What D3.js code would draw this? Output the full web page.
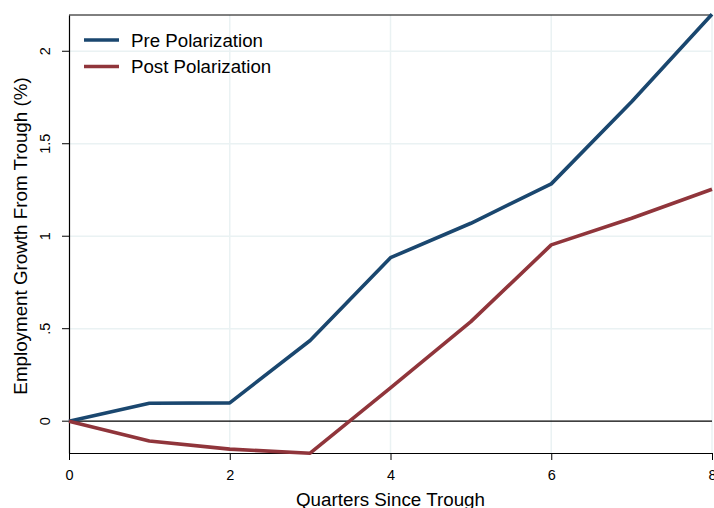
<!DOCTYPE html>
<html lang="en">
<head>
	<meta charset="UTF-8">
	<script src="https://d3js.org/d3.v7.min.js"></script>
	<style>
	body { margin: 0; background: #fff; }
	svg { display: block; font-family: "Liberation Sans", Arial, sans-serif; }
	</style>
</head>
<body>
	<div id="chart"></div>
	<script>
		// Quarters since trough
		const quarters = [0, 1, 2, 3, 4, 5, 6, 7, 8];
		// Employment growth from trough (%)
		const prePolarization = [0, 0.097, 0.099, 0.436, 0.884, 1.07, 1.283, 1.727, 2.2];
		const postPolarization = [0, -0.107, -0.151, -0.173, 0.18, 0.538, 0.953, 1.097, 1.254];
		const xTicks = [0, 2, 4, 6, 8];
		const yTicks = [0, 0.5, 1, 1.5, 2];
		const yTickLabels = ["0", ".5", "1", "1.5", "2"];

		const width = 714, height = 508;
		const margin = { top: 15, right: 2, bottom: 55, left: 69 };

		const svg = d3.select("#chart")
			.append("svg")
			.attr("width", width)
			.attr("height", height);

		const x = d3.scaleLinear([0, 8], [margin.left, width - margin.right]);
		const y = d3.scaleLinear([-0.172, 2.196], [height - margin.bottom, margin.top]);

		// Grid lines
		svg.append("g")
			.selectAll("line.hgrid")
			.data(yTicks.filter(d => d !== 0))
			.join("line")
			.attr("x1", margin.left).attr("x2", width - margin.right)
			.attr("y1", d => y(d)).attr("y2", d => y(d))
			.attr("stroke", "#eaf2f3").attr("stroke-width", 1.5);
		svg.append("g")
			.selectAll("line.vgrid")
			.data(xTicks.filter(d => d !== 0))
			.join("line")
			.attr("x1", d => x(d)).attr("x2", d => x(d))
			.attr("y1", margin.top).attr("y2", height - margin.bottom)
			.attr("stroke", "#eaf2f3").attr("stroke-width", 1.5);

		// Zero line
		svg.append("line")
			.attr("x1", margin.left).attr("x2", width - margin.right)
			.attr("y1", y(0)).attr("y2", y(0))
			.attr("stroke", "#000").attr("stroke-width", 1.2);

		// Top frame
		svg.append("line")
			.attr("x1", margin.left).attr("x2", width - margin.right)
			.attr("y1", margin.top).attr("y2", margin.top)
			.attr("stroke", "#000").attr("stroke-width", 1);

		// Axes
		const xAxis = svg.append("g")
			.attr("transform", "translate(0," + (height - margin.bottom) + ")")
			.call(d3.axisBottom(x).tickValues(xTicks).tickSize(7).tickSizeOuter(0));
		xAxis.select(".domain").attr("stroke-width", 1.2);
		xAxis.selectAll("text")
			.attr("font-size", 14.5)
			.attr("fill", "#000")
			.attr("y", 27)
			.attr("dy", 0);

		const yAxis = svg.append("g")
			.attr("transform", "translate(" + margin.left + ",0)")
			.call(d3.axisLeft(y).tickValues(yTicks).tickFormat((d, i) => yTickLabels[i]).tickSize(7).tickSizeOuter(0));
		yAxis.select(".domain").attr("stroke-width", 1.2);
		yAxis.selectAll("text")
			.attr("font-size", 14.5)
			.attr("fill", "#000")
			.attr("text-anchor", "middle")
			.attr("x", 0).attr("dy", 0)
			.attr("transform", d => "translate(-19," + y(d) + ") rotate(-90)")
			.attr("y", 0);
		yAxis.selectAll(".tick").attr("transform", null);
		yAxis.selectAll(".tick line").attr("y1", d => y(d)).attr("y2", d => y(d));

		// Lines
		const line = d3.line().x((d, i) => x(quarters[i])).y(d => y(d));
		const series = [
			{ name: "Pre Polarization", values: prePolarization, color: "#1a476f" },
			{ name: "Post Polarization", values: postPolarization, color: "#90353b" }
		];
		svg.append("g")
			.selectAll("path")
			.data(series)
			.join("path")
			.attr("d", d => line(d.values))
			.attr("fill", "none")
			.attr("stroke", d => d.color)
			.attr("stroke-width", 3.6)
			.attr("stroke-linejoin", "round");

		// Legend
		const legend = svg.append("g")
			.selectAll("g")
			.data(series)
			.join("g")
			.attr("transform", (d, i) => "translate(84," + (40 + i * 26.5) + ")");
		legend.append("line")
			.attr("x1", 0).attr("x2", 35)
			.attr("stroke", d => d.color)
			.attr("stroke-width", 3.6);
		legend.append("text")
			.attr("x", 47).attr("dy", "0.35em")
			.attr("font-size", 18.7)
			.text(d => d.name);

		// Axis titles
		svg.append("text")
			.attr("x", (margin.left + width - margin.right) / 2)
			.attr("y", 506)
			.attr("text-anchor", "middle")
			.attr("font-size", 18.8)
			.text("Quarters Since Trough");
		svg.append("text")
			.attr("transform", "translate(26.5,236) rotate(-90)")
			.attr("text-anchor", "middle")
			.attr("font-size", 18.8)
			.text("Employment Growth From Trough (%)");
	</script>
</body>
</html>
